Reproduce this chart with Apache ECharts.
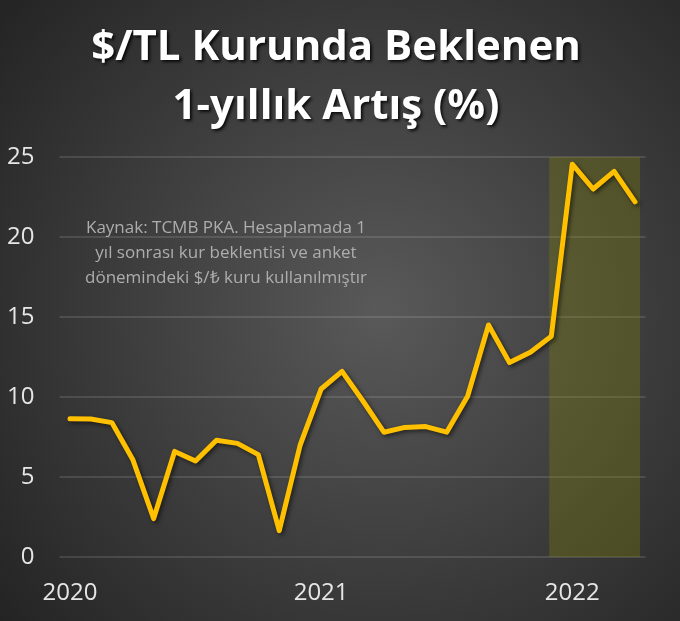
<!DOCTYPE html>
<html>
<head>
<meta charset="utf-8">
<script src="https://cdn.jsdelivr.net/npm/echarts@6/dist/echarts.min.js"></script>
<style>
html,body{margin:0;padding:0;background:#2a2a2a;}
#chart{width:680px;height:621px;}
</style>
</head>
<body>
<div id="chart"></div>
<script>
// Monthly categories Jan 2020 - Apr 2022
const months = ["2020-01","2020-02","2020-03","2020-04","2020-05","2020-06","2020-07","2020-08","2020-09","2020-10","2020-11","2020-12",
  "2021-01","2021-02","2021-03","2021-04","2021-05","2021-06","2021-07","2021-08","2021-09","2021-10","2021-11","2021-12",
  "2022-01","2022-02","2022-03","2022-04"];
// Expected 1-year increase in USD/TRY (%)
const expectedIncrease = [8.64,8.62,8.4,6.1,2.4,6.6,6.0,7.3,7.1,6.4,1.65,7.0,
  10.5,11.6,9.75,7.8,8.1,8.15,7.8,10.05,14.5,12.15,12.8,13.8,
  24.55,23.0,24.1,22.2];
// Highlighted range (in category index units)
const highlightRange = [22.9, 27.24];
const yTicks = {min: 0, max: 25, interval: 5};
const titleText = "$/TL Kurunda Beklenen\n1-yıllık Artış (%)";
const noteText = "Kaynak: TCMB PKA. Hesaplamada 1\nyıl sonrası kur beklentisi ve anket\ndönemindeki $/₺ kuru kullanılmıştır";

const chart = echarts.init(document.getElementById('chart'), null, {renderer: 'canvas'});
chart.setOption({
  animation: false,
  backgroundColor: {
    type: 'radial', x: 0.56, y: 0.5, r: 0.8,
    colorStops: [{offset: 0, color: '#595959'}, {offset: 1, color: '#232323'}]
  },
  title: [{
    text: titleText,
    left: 331, top: 14, textAlign: 'center',
    textStyle: {
      fontFamily: 'Open Sans', fontWeight: 'bold', fontSize: 42, lineHeight: 59,
      color: '#ffffff',
      textShadowColor: 'rgba(0,0,0,0.8)', textShadowBlur: 3, textShadowOffsetX: 2, textShadowOffsetY: 2
    }
  }, {
    text: noteText,
    left: 221, top: 211, textAlign: 'center',
    textStyle: {
      fontFamily: 'Open Sans', fontWeight: 'normal', fontSize: 17, lineHeight: 25,
      color: '#adadad'
    }
  }],
  grid: {left: 59.5, right: 34.5, top: 157, bottom: 64},
  xAxis: [{
    type: 'category',
    data: months,
    boundaryGap: true,
    axisLine: {show: false},
    axisTick: {show: false},
    axisLabel: {
      interval: 0, margin: 24,
      fontFamily: 'Open Sans', fontSize: 24, color: '#e6e6e6',
      formatter: function (v) { return v.slice(5) === '01' ? v.slice(0, 4) : ''; }
    },
    splitLine: {show: false}
  }, {
    type: 'value', min: -0.5, max: months.length - 0.5, show: false,
    splitLine: {show: false}
  }],
  yAxis: {
    type: 'value', min: yTicks.min, max: yTicks.max, interval: yTicks.interval,
    axisLine: {show: false}, axisTick: {show: false},
    axisLabel: {margin: 25, fontFamily: 'Open Sans', fontSize: 24, color: '#e6e6e6'},
    splitLine: {lineStyle: {color: 'rgba(255,255,255,0.16)', width: 1.5}}
  },
  series: [{
    type: 'line',
    xAxisIndex: 1,
    data: [[highlightRange[0], 0], [highlightRange[1], 0]],
    symbol: 'none',
    lineStyle: {opacity: 0},
    silent: true,
    z: 1,
    markArea: {
      silent: true,
      itemStyle: {color: 'rgba(145,145,0,0.28)'},
      data: [[{xAxis: highlightRange[0], yAxis: yTicks.min}, {xAxis: highlightRange[1], yAxis: yTicks.max}]]
    }
  }, {
    type: 'line',
    data: expectedIncrease,
    symbol: 'none',
    z: 5,
    lineStyle: {
      color: '#FFC000', width: 5, cap: 'round', join: 'round',
      shadowColor: 'rgba(0,0,0,0.55)', shadowBlur: 4, shadowOffsetX: 2, shadowOffsetY: 2
    }
  }]
});
</script>
</body>
</html>
